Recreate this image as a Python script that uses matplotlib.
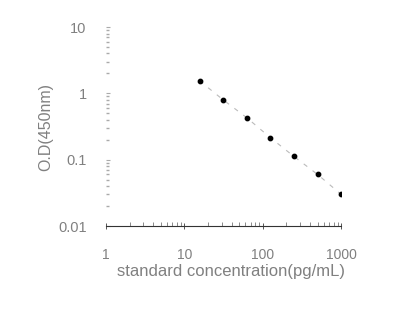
import matplotlib
matplotlib.use("Agg")
import matplotlib.pyplot as plt
from matplotlib.ticker import LogLocator, NullFormatter, FixedLocator, FixedFormatter

conc = [15.6, 31.25, 62.5, 125, 250, 500, 1000]
od = [1.55, 0.80, 0.43, 0.215, 0.112, 0.060, 0.030]
xticks = [1, 10, 100, 1000]
xticklabels = ["1", "10", "100", "1000"]
yticks = [0.01, 0.1, 1, 10]
yticklabels = ["0.01", "0.1", "1", "10"]

plt.rcParams['font.family'] = ['Liberation Sans', 'DejaVu Sans']
fig = plt.figure(figsize=(4.14, 3.15), dpi=100)
ax = fig.add_axes([0.256, 0.2825, 0.568, 0.6315])
ax.set_xscale('log')
ax.set_yscale('log')
ax.set_xlim(1, 1000)
ax.set_ylim(0.01, 10)

ax.plot(conc, od, color='#bbbbbb', lw=0.8, ls=(0, (4, 6)), zorder=1)
ax.scatter(conc, od, s=10, color='black', zorder=2)

for s in ['top', 'right']:
    ax.spines[s].set_visible(False)
ax.spines['left'].set_visible(False)
ax.spines['bottom'].set_color('#333333')
ax.spines['bottom'].set_linewidth(0.8)

ax.xaxis.set_major_locator(FixedLocator(xticks))
ax.xaxis.set_major_formatter(FixedFormatter(xticklabels))
ax.yaxis.set_major_locator(FixedLocator(yticks))
ax.yaxis.set_major_formatter(FixedFormatter(yticklabels))
ax.xaxis.set_minor_locator(LogLocator(base=10, subs=range(2, 10)))
ax.yaxis.set_minor_locator(LogLocator(base=10, subs=range(2, 10)))
ax.xaxis.set_minor_formatter(NullFormatter())
ax.yaxis.set_minor_formatter(NullFormatter())

ax.tick_params(axis='x', which='major', direction='inout', length=4, width=0.7, color='#555555',
               pad=14, labelsize=10, labelcolor='#808080')
ax.tick_params(axis='x', which='minor', direction='in', length=3, width=0.6, color='#777777')
ax.tick_params(axis='y', which='major', direction='in', length=3, width=0.8, color='#aaaaaa',
               pad=14, labelsize=10.5, labelcolor='#808080')
ax.tick_params(axis='y', which='minor', direction='in', length=2, width=1.0, color='#aaaaaa')

ax.set_xlabel('standard concentration(pg/mL)', fontsize=12, color='#808080', labelpad=1)
ax.xaxis.label.set_x(0.532)
ax.set_ylabel('O.D(450nm)', fontsize=11.5, color='#808080', labelpad=3)

fig.savefig('out.png', dpi=100, facecolor='white')
